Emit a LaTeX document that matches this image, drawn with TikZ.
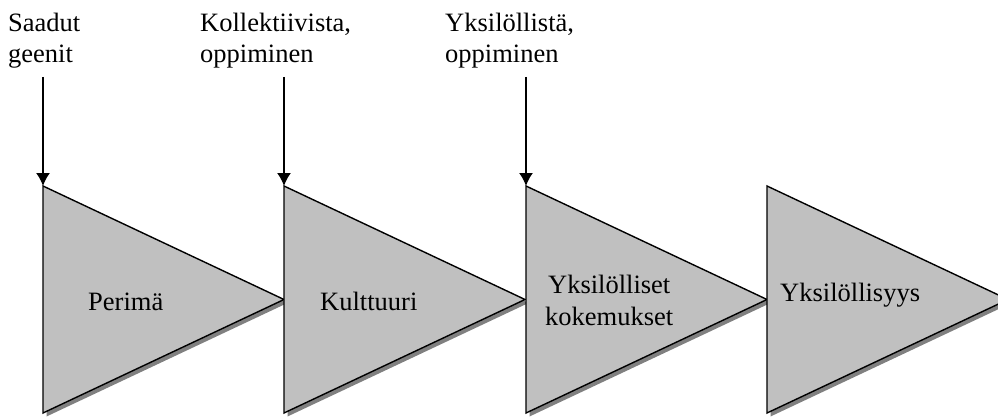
\documentclass[tikz,border=0pt]{standalone}
\usepackage{fontspec}
\setmainfont{Liberation Serif}
\usetikzlibrary{arrows.meta}
\usetikzlibrary{positioning}
\definecolor{stagegray}{HTML}{C0C0C0}
\definecolor{shadowgray}{HTML}{808080}

\begin{document}
\begin{tikzpicture}[x=1pt, y=-1pt,
                    every node/.style={font=\fontsize{26.5}{31.5}\selectfont, inner sep=0pt},
                    stage/.style={fill=stagegray, draw=black, line width=1.4pt},
                    stageshadow/.style={fill=shadowgray, draw=none},
                    inflow/.style={-{Latex[length=13pt, width=14pt]}, line width=1.6pt}]

    \useasboundingbox (0,0) rectangle (998,417);

    \foreach \x in {43,284,526,767} {
        \fill[stageshadow] (\x+3.5,189.5) -- (\x+244.5,303) -- (\x+3.5,416.5) -- cycle;
        \draw[stage] (\x,186) -- (\x+241,299.5) -- (\x,413) -- cycle;
    }

    \node[anchor=base west] (perima) at (88,310) {Perimä};
    \node[anchor=base west] (kulttuuri) at (320,310) {Kulttuuri};
    \node[anchor=base west, align=center] (kokemukset) at (545,325) {Yksilölliset\\kokemukset};
    \node[anchor=base west] (yksilollisyys) at (780,301) {Yksilöllisyys};

    \node[anchor=base west, align=left] (geenit) at (8,63) {Saadut\\geenit};
    \node[anchor=base west, align=left] (kollektiivista) at (200,63) {Kollektiivista,\\oppiminen};
    \node[anchor=base west, align=left] (yksilollista) at (445,63) {Yksilöllistä,\\oppiminen};

    \coordinate (in1) at (43,77);
    \coordinate (in2) at (284,77);
    \coordinate (in3) at (526,77);
    \coordinate (top1) at (43,186);
    \coordinate (top2) at (284,186);
    \coordinate (top3) at (526,186);

    \draw[inflow] (in1) -- (top1);
    \draw[inflow] (in2) -- (top2);
    \draw[inflow] (in3) -- (top3);
\end{tikzpicture}
\end{document}
